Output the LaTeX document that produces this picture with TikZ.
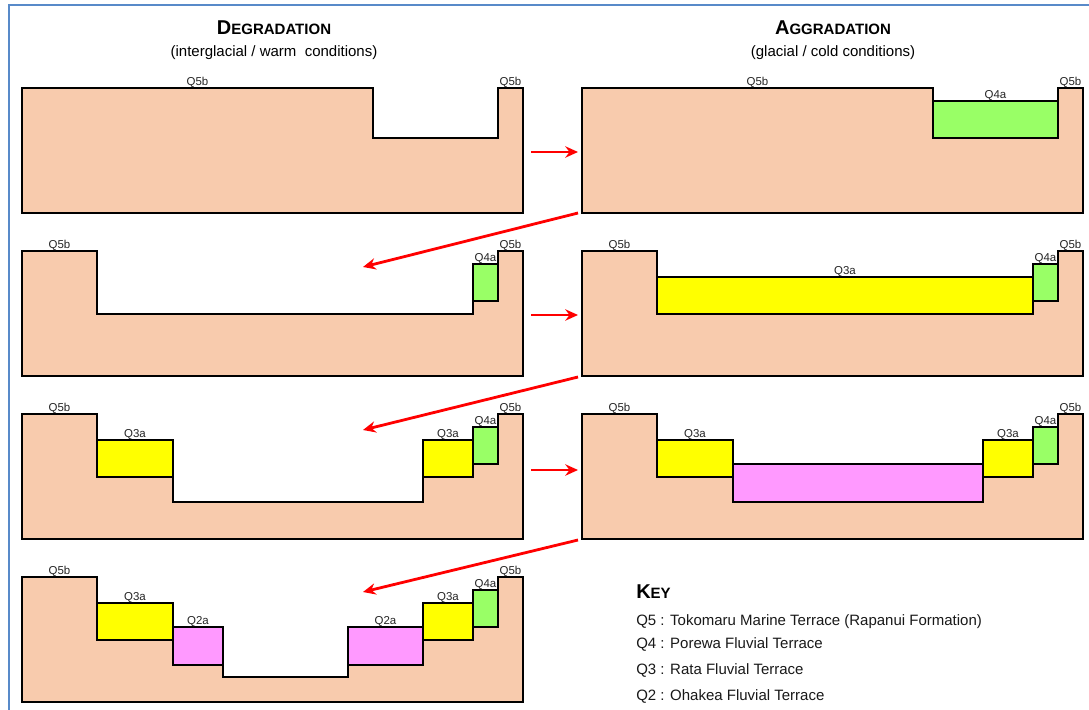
\documentclass[tikz,border=0pt]{standalone}
\usepackage{fontspec}
\setmainfont{Liberation Sans}
\usetikzlibrary{arrows.meta}

\definecolor{rockpeach}{RGB}{248,203,173}
\definecolor{porewagreen}{RGB}{153,255,102}
\definecolor{ratayellow}{RGB}{255,255,0}
\definecolor{ohakeapink}{RGB}{255,153,255}
\definecolor{frameblue}{RGB}{88,138,201}
\newcommand{\fakesc}[2]{{\fontsize{15}{18}\selectfont\bfseries #1}{\fontsize{11.25}{14}\selectfont\bfseries #2}}

\begin{document}
\begin{tikzpicture}[x=0.75pt, y=-0.75pt,
  rock/.style={fill=rockpeach, draw=black, line width=1.6pt},
  q4/.style={fill=porewagreen, draw=black, line width=1.6pt},
  q3/.style={fill=ratayellow, draw=black, line width=1.6pt},
  q2/.style={fill=ohakeapink, draw=black, line width=1.6pt},
  tlabel/.style={anchor=base, inner sep=0pt, text=black!85, font=\fontsize{8.6}{9}\selectfont},
  keyline/.style={anchor=base west, inner sep=0pt, text=black!90, font=\fontsize{11.25}{14}\selectfont},
  flow/.style={red, line width=2.1pt, -{Stealth[length=9.5pt, width=8.5pt]}}]
\useasboundingbox (0,0) rectangle (1089,710);
\fill[white] (0,0) rectangle (1089,710);
\draw[frameblue, line width=1.9pt] (9,720) -- (9,5) -- (1100,5);

% headings
\path (274,35) node[anchor=base, inner sep=0pt] (degtitle) {\fakesc{D}{EGRADATION}};
\path (274,56.5) node[anchor=base, inner sep=0pt, font=\fontsize{11.25}{14}\selectfont] (degsub) {(interglacial / warm \ conditions)};
\path (833,35) node[anchor=base, inner sep=0pt] (aggtitle) {\fakesc{A}{GGRADATION}};
\path (833,56.5) node[anchor=base, inner sep=0pt, font=\fontsize{11.25}{14}\selectfont] (aggsub) {(glacial / cold conditions)};

% row 1
\begin{scope}[shift={(22,88)}]
\draw[rock] (0,0) -- (351,0) -- (351,50) -- (476,50) -- (476,0) -- (501,0) -- (501,125) -- (0,125) -- cycle;
\path (175.5,-2.5) node[tlabel] (dOneQfiveL) {Q5b};
\path (488.5,-2.5) node[tlabel] (dOneQfiveR) {Q5b};
\end{scope}
\begin{scope}[shift={(582,88)}]
\draw[rock] (0,0) -- (351,0) -- (351,50) -- (476,50) -- (476,0) -- (501,0) -- (501,125) -- (0,125) -- cycle;
\draw[q4] (351,13) rectangle (476,50);
\path (175.5,-2.5) node[tlabel] (aOneQfiveL) {Q5b};
\path (413.5,10.5) node[tlabel] (aOneQfour) {Q4a};
\path (488.5,-2.5) node[tlabel] (aOneQfiveR) {Q5b};
\end{scope}

% row 2
\begin{scope}[shift={(22,251)}]
\draw[rock] (0,0) -- (75,0) -- (75,63) -- (451,63) -- (451,50) -- (476,50) -- (476,0) -- (501,0) -- (501,125) -- (0,125) -- cycle;
\draw[q4] (451,13) rectangle (476,50);
\path (37.5,-2.5) node[tlabel] (dTwoQfiveL) {Q5b};
\path (463.5,10.5) node[tlabel] (dTwoQfour) {Q4a};
\path (488.5,-2.5) node[tlabel] (dTwoQfiveR) {Q5b};
\end{scope}
\begin{scope}[shift={(582,251)}]
\draw[rock] (0,0) -- (75,0) -- (75,63) -- (451,63) -- (451,50) -- (476,50) -- (476,0) -- (501,0) -- (501,125) -- (0,125) -- cycle;
\draw[q3] (75,26) rectangle (451,63);
\draw[q4] (451,13) rectangle (476,50);
\path (37.5,-2.5) node[tlabel] (aTwoQfiveL) {Q5b};
\path (263,23.5) node[tlabel] (aTwoQthree) {Q3a};
\path (463.5,10.5) node[tlabel] (aTwoQfour) {Q4a};
\path (488.5,-2.5) node[tlabel] (aTwoQfiveR) {Q5b};
\end{scope}

% row 3
\begin{scope}[shift={(22,414)}]
\draw[rock] (0,0) -- (75,0) -- (75,63) -- (151,63) -- (151,88) -- (401,88) -- (401,63) -- (451,63) -- (451,50) -- (476,50) -- (476,0) -- (501,0) -- (501,125) -- (0,125) -- cycle;
\draw[q3] (75,26) rectangle (151,63);
\draw[q3] (401,26) rectangle (451,63);
\draw[q4] (451,13) rectangle (476,50);
\path (37.5,-2.5) node[tlabel] (dThreeQfiveL) {Q5b};
\path (113,23.5) node[tlabel] (dThreeQthreeL) {Q3a};
\path (426,23.5) node[tlabel] (dThreeQthreeR) {Q3a};
\path (463.5,10.5) node[tlabel] (dThreeQfour) {Q4a};
\path (488.5,-2.5) node[tlabel] (dThreeQfiveR) {Q5b};
\end{scope}
\begin{scope}[shift={(582,414)}]
\draw[rock] (0,0) -- (75,0) -- (75,63) -- (151,63) -- (151,88) -- (401,88) -- (401,63) -- (451,63) -- (451,50) -- (476,50) -- (476,0) -- (501,0) -- (501,125) -- (0,125) -- cycle;
\draw[q3] (75,26) rectangle (151,63);
\draw[q2] (151,50) rectangle (401,88);
\draw[q3] (401,26) rectangle (451,63);
\draw[q4] (451,13) rectangle (476,50);
\path (37.5,-2.5) node[tlabel] (aThreeQfiveL) {Q5b};
\path (113,23.5) node[tlabel] (aThreeQthreeL) {Q3a};
\path (426,23.5) node[tlabel] (aThreeQthreeR) {Q3a};
\path (463.5,10.5) node[tlabel] (aThreeQfour) {Q4a};
\path (488.5,-2.5) node[tlabel] (aThreeQfiveR) {Q5b};
\end{scope}

% row 4
\begin{scope}[shift={(22,577)}]
\draw[rock] (0,0) -- (75,0) -- (75,63) -- (151,63) -- (151,88) -- (201,88) -- (201,100) -- (326,100) -- (326,88) -- (401,88) -- (401,63) -- (451,63) -- (451,50) -- (476,50) -- (476,0) -- (501,0) -- (501,125) -- (0,125) -- cycle;
\draw[q3] (75,26) rectangle (151,63);
\draw[q2] (151,50) rectangle (201,88);
\draw[q2] (326,50) rectangle (401,88);
\draw[q3] (401,26) rectangle (451,63);
\draw[q4] (451,13) rectangle (476,50);
\path (37.5,-2.5) node[tlabel] (dFourQfiveL) {Q5b};
\path (113,23.5) node[tlabel] (dFourQthreeL) {Q3a};
\path (176,47.5) node[tlabel] (dFourQtwoL) {Q2a};
\path (363.5,47.5) node[tlabel] (dFourQtwoR) {Q2a};
\path (426,23.5) node[tlabel] (dFourQthreeR) {Q3a};
\path (463.5,10.5) node[tlabel] (dFourQfour) {Q4a};
\path (488.5,-2.5) node[tlabel] (dFourQfiveR) {Q5b};
\end{scope}

% arrows between stages
\coordinate (dOneOut) at (531,152);   \coordinate (aOneIn) at (578,152);
\coordinate (dTwoOut) at (531,315);   \coordinate (aTwoIn) at (578,315);
\coordinate (dThreeOut) at (531,470); \coordinate (aThreeIn) at (578,470);
\coordinate (aOneOut) at (578,213);   \coordinate (dTwoIn) at (363,267);
\coordinate (aTwoOut) at (578,377);   \coordinate (dThreeIn) at (363,430);
\coordinate (aThreeOut) at (578,540); \coordinate (dFourIn) at (363,592);
\draw[flow] (dOneOut) -- (aOneIn);
\draw[flow] (dTwoOut) -- (aTwoIn);
\draw[flow] (dThreeOut) -- (aThreeIn);
\draw[flow] (aOneOut) -- (dTwoIn);
\draw[flow] (aTwoOut) -- (dThreeIn);
\draw[flow] (aThreeOut) -- (dFourIn);

% key
\path (636,598) node[anchor=base west, inner sep=0pt] (keyhead) {\fakesc{K}{EY}};
\path (636,625) node[keyline] (keyQfive) {Q5 : Tokomaru Marine Terrace (Rapanui Formation)};
\path (636,648) node[keyline] (keyQfour) {Q4 : Porewa Fluvial Terrace};
\path (636,674) node[keyline] (keyQthree) {Q3 : Rata Fluvial Terrace};
\path (636,700) node[keyline] (keyQtwo) {Q2 : Ohakea Fluvial Terrace};
\end{tikzpicture}
\end{document}
